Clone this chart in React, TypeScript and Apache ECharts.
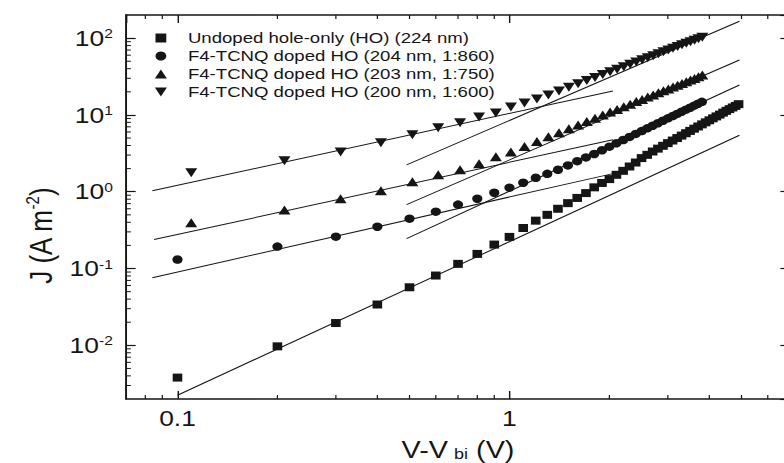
import { useEffect, useRef } from "react";
import * as echarts from "echarts";

// ---- layout constants (chart drawn at base width, then stretched horizontally like the source) ----
const BASE_W = 653;
const H = 463;
const SX = 784 / BASE_W;
const FONT = "'Liberation Sans', Arial, Helvetica, sans-serif";
const INK = "#151515";

// ---- axes ----
const X_MIN = 0.07;
const X_MAX = 7;
const Y_MIN = 0.002;
const Y_MAX = 200;
const xMinorTicks = [0.08, 0.09, 0.2, 0.3, 0.4, 0.5, 0.6, 0.7, 0.8, 0.9, 2, 3, 4, 5, 6];
const yMinorTicks = [
  0.003, 0.004, 0.005, 0.006, 0.007, 0.008, 0.009,
  0.02, 0.03, 0.04, 0.05, 0.06, 0.07, 0.08, 0.09,
  0.2, 0.3, 0.4, 0.5, 0.6, 0.7, 0.8, 0.9,
  2, 3, 4, 5, 6, 7, 8, 9,
  20, 30, 40, 50, 60, 70, 80, 90,
];

// ---- legend names ----
const seriesNames = [
  "Undoped hole-only (HO) (224 nm)",
  "F4-TCNQ doped HO (204 nm, 1:860)",
  "F4-TCNQ doped HO (203 nm, 1:750)",
  "F4-TCNQ doped HO (200 nm, 1:600)",
];

// ---- data: undoped (squares) ----
const undopedV = [
  0.1, 0.2, 0.3, 0.4, 0.5, 0.6, 0.7, 0.8, 0.9, 1.0,
  1.1, 1.2, 1.3, 1.4, 1.5, 1.6, 1.7, 1.8, 1.9, 2.0,
  2.1, 2.2, 2.3, 2.4, 2.5, 2.6, 2.7, 2.8, 2.9, 3.0,
  3.1, 3.2, 3.3, 3.4, 3.5, 3.6, 3.7, 3.8, 3.9, 4.0,
  4.1, 4.2, 4.3, 4.4, 4.5, 4.6, 4.7, 4.8, 4.9,
];
const undopedJ = [
  0.0038, 0.0097, 0.0195, 0.034, 0.057, 0.081, 0.115, 0.155, 0.205, 0.258,
  0.337, 0.42, 0.5, 0.6, 0.71, 0.83, 0.96, 1.14, 1.3, 1.46,
  1.66, 1.87, 2.13, 2.4, 2.74, 3.02, 3.34, 3.64, 3.96, 4.29,
  4.64, 5.0, 5.38, 5.78, 6.19, 6.62, 7.07, 7.53, 8.01, 8.51,
  9.03, 9.56, 10.1, 10.7, 11.3, 11.9, 12.5, 13.1, 13.8,
];

// ---- data: 1:860 (circles) ----
const d860V = [
  0.1, 0.2, 0.3, 0.4, 0.5, 0.6, 0.7, 0.8, 0.9, 1.0,
  1.1, 1.2, 1.3, 1.4, 1.5, 1.6, 1.7, 1.8, 1.9, 2.0,
  2.1, 2.2, 2.3, 2.4, 2.5, 2.6, 2.7, 2.8, 2.9, 3.0,
  3.1, 3.2, 3.3, 3.4, 3.5, 3.6, 3.7, 3.8,
];
const d860J = [
  0.131, 0.193, 0.26, 0.35, 0.446, 0.55, 0.68, 0.81, 0.97, 1.13,
  1.31, 1.52, 1.71, 1.93, 2.2, 2.5, 2.8, 3.1, 3.47, 3.86,
  4.28, 4.71, 5.17, 5.66, 6.16, 6.69, 7.23, 7.8, 8.4, 9.02,
  9.66, 10.3, 11.0, 11.7, 12.4, 13.2, 14.0, 14.8,
];

// ---- data: 1:750 (up triangles) ----
const d750V = [
  0.11, 0.21, 0.31, 0.41, 0.51, 0.61, 0.71, 0.81, 0.91, 1.01,
  1.11, 1.21, 1.31, 1.41, 1.51, 1.61, 1.71, 1.81, 1.91, 2.01,
  2.11, 2.21, 2.31, 2.41, 2.51, 2.61, 2.71, 2.81, 2.91, 3.01,
  3.11, 3.21, 3.31, 3.41, 3.51, 3.61, 3.71, 3.81,
];
const d750J = [
  0.395, 0.58, 0.81, 1.03, 1.35, 1.66, 1.93, 2.31, 2.85, 3.3,
  3.88, 4.51, 5.18, 5.88, 6.62, 7.39, 8.2, 9.05, 9.94, 10.9,
  11.8, 12.8, 13.8, 14.9, 15.9, 17.1, 18.2, 19.4, 20.6, 21.8,
  23.1, 24.4, 25.7, 27.1, 28.5, 29.9, 31.3, 33.0,
];

// ---- data: 1:600 (down triangles) ----
const d600V = [
  0.11, 0.21, 0.31, 0.41, 0.51, 0.61, 0.71, 0.81, 0.91, 1.01,
  1.11, 1.21, 1.31, 1.41, 1.51, 1.61, 1.71, 1.81, 1.91, 2.01,
  2.11, 2.21, 2.31, 2.41, 2.51, 2.61, 2.71, 2.81, 2.91, 3.01,
  3.11, 3.21, 3.31, 3.41, 3.51, 3.61, 3.71, 3.81,
];
const d600J = [
  1.77, 2.53, 3.3, 4.33, 5.5, 6.8, 7.9, 9.4, 10.6, 12.7,
  14.3, 16.1, 18.2, 20.5, 22.9, 25.4, 28.0, 30.7, 33.5, 36.4,
  39.4, 42.5, 45.6, 48.9, 52.2, 55.6, 59.1, 62.7, 66.3, 70.0,
  73.9, 77.7, 81.7, 85.7, 89.9, 94.0, 98.3, 103,
];

// ---- fitted lines (end points) ----
const fitUndopedV = [0.1, 4.93];
const fitUndopedJ = [0.00224, 5.44];
const fit860LowV = [0.084, 2.05];
const fit860LowJ = [0.076, 1.72];
const fit750LowV = [0.085, 2.05];
const fit750LowJ = [0.238, 4.75];
const fit600LowV = [0.084, 2.05];
const fit600LowJ = [1.03, 20.5];
const fit860HighV = [0.49, 4.93];
const fit860HighJ = [0.245, 24.5];
const fit750HighV = [0.49, 4.93];
const fit750HighJ = [0.68, 51.8];
const fit600HighV = [0.49, 4.93];
const fit600HighJ = [2.24, 166];

const pairs = (xs: number[], ys: number[]) => xs.map((x, i) => [x, ys[i]]);

const SQUARE = "path://M0,0L10,0L10,10L0,10Z";
const UP_TRI = "path://M5,0L10,9L0,9Z";
const DOWN_TRI = "path://M0,0L10,0L5,9Z";

export default function App() {
  const ref = useRef<HTMLDivElement>(null);

  useEffect(() => {
    if (!ref.current) return;
    const chart = echarts.init(ref.current, null, { renderer: "svg" });

    const axisCommon = {
      type: "log",
      logBase: 10,
      axisLine: { show: true, onZero: false, lineStyle: { color: INK, width: 1.6 } },
      axisTick: { show: true, inside: true, length: 8, lineStyle: { color: INK, width: 1.2 } },
      splitLine: { show: false },
      minorTick: { show: false },
    };

    const fitLines = [
      [fitUndopedV, fitUndopedJ],
      [fit860LowV, fit860LowJ],
      [fit750LowV, fit750LowJ],
      [fit600LowV, fit600LowJ],
      [fit860HighV, fit860HighJ],
      [fit750HighV, fit750HighJ],
      [fit600HighV, fit600HighJ],
    ].map(([xs, ys]) => ({
      type: "line",
      data: pairs(xs, ys),
      symbol: "none",
      silent: true,
      lineStyle: { color: INK, width: 1 },
      z: 2,
    }));

    const scatter = (name: string, xs: number[], ys: number[], symbol: string, size: any) => ({
      type: "scatter",
      name,
      data: pairs(xs, ys),
      symbol,
      symbolSize: size,
      itemStyle: { color: INK, opacity: 1 },
      z: 3,
    });

    const tickStyle = { stroke: INK, lineWidth: 1 };

    const option: any = {
      animation: false,
      backgroundColor: "#ffffff",
      grid: { left: 105, right: -5, top: 15, bottom: 64, containLabel: false, outerBoundsMode: "none" },
      legend: {
        orient: "vertical",
        left: 124,
        top: 25,
        itemWidth: 35,
        itemHeight: 9,
        itemGap: 2,
        selectedMode: false,
        data: seriesNames,
        textStyle: { fontFamily: FONT, fontSize: 15.5, lineHeight: 16, color: INK },
      },
      xAxis: [
        {
          ...axisCommon,
          min: X_MIN,
          max: X_MAX,
          position: "bottom",
          axisLabel: {
            show: true,
            interval: 0,
            showMinLabel: false,
            showMaxLabel: false,
            margin: 8,
            fontFamily: FONT,
            fontSize: 22,
            color: INK,
            formatter: (v: number) => {
              const e = Math.round(Math.log10(v));
              return e < 0 ? Math.pow(10, e).toFixed(-e) : String(Math.pow(10, e));
            },
          },
          name: "{a|V-V}{b|bi}{a| (V)}",
          nameLocation: "middle",
          nameGap: 38.5,
          nameTextStyle: {
            fontFamily: FONT,
            color: INK,
            rich: {
              a: { fontFamily: FONT, fontSize: 24, lineHeight: 24, color: INK },
              b: { fontFamily: FONT, fontSize: 15, lineHeight: 11, color: INK, verticalAlign: "bottom", padding: [0, 0, 0, 5] },
            },
          },
        },
        {
          ...axisCommon,
          min: X_MIN,
          max: X_MAX,
          position: "top",
          axisLabel: { show: false },
        },
      ],
      yAxis: [
        {
          ...axisCommon,
          min: Y_MIN,
          max: Y_MAX,
          position: "left",
          axisLabel: {
            show: true,
            interval: 0,
            showMinLabel: false,
            showMaxLabel: false,
            margin: 11,
            fontFamily: FONT,
            color: INK,
            formatter: (v: number) => {
              const e = Math.round(Math.log10(v));
              return `{b|10}{s|${e}}`;
            },
            rich: {
              b: { fontFamily: FONT, fontSize: 22, color: INK },
              s: { fontFamily: FONT, fontSize: 13, color: INK, verticalAlign: "top" },
            },
          },
          name: "{a|J (A m}{s|-2}{a|)}",
          nameLocation: "middle",
          nameRotate: 90,
          nameGap: 57,
          nameTextStyle: {
            fontFamily: FONT,
            color: INK,
            padding: [0, 58, 0, 0],
            rich: {
              a: { fontFamily: FONT, fontSize: 26, lineHeight: 28, color: INK },
              s: { fontFamily: FONT, fontSize: 15, color: INK, verticalAlign: "top" },
            },
          },
        },
        {
          ...axisCommon,
          min: Y_MIN,
          max: Y_MAX,
          position: "right",
          axisLabel: { show: false },
        },
      ],
      series: [
        ...fitLines,
        scatter(seriesNames[0], undopedV, undopedJ, SQUARE, 8),
        scatter(seriesNames[1], d860V, d860J, "circle", 8.5),
        scatter(seriesNames[2], d750V, d750J, UP_TRI, [10, 9]),
        scatter(seriesNames[3], d600V, d600J, DOWN_TRI, [10, 9]),
        {
          type: "custom",
          silent: true,
          clip: false,
          z: 4,
          data: xMinorTicks.map((v) => [v, Y_MIN]),
          renderItem: (_p: any, api: any) => {
            const b = api.coord([api.value(0), Y_MIN]);
            const t = api.coord([api.value(0), Y_MAX]);
            return {
              type: "group",
              children: [
                { type: "line", shape: { x1: b[0], y1: b[1], x2: b[0], y2: b[1] - 4 }, style: tickStyle },
                { type: "line", shape: { x1: t[0], y1: t[1], x2: t[0], y2: t[1] + 4 }, style: tickStyle },
              ],
            };
          },
        },
        {
          type: "custom",
          silent: true,
          clip: false,
          z: 4,
          data: yMinorTicks.map((v) => [X_MIN, v]),
          renderItem: (_p: any, api: any) => {
            const l = api.coord([X_MIN, api.value(1)]);
            const r = api.coord([X_MAX, api.value(1)]);
            return {
              type: "group",
              children: [
                { type: "line", shape: { x1: l[0], y1: l[1], x2: l[0] + 4, y2: l[1] }, style: tickStyle },
                { type: "line", shape: { x1: r[0], y1: r[1], x2: r[0] - 4, y2: r[1] }, style: tickStyle },
              ],
            };
          },
        },
      ],
    };

    chart.setOption(option);
    return () => chart.dispose();
  }, []);

  return (
    <div
      ref={ref}
      style={{
        position: "absolute",
        left: 0,
        top: 0,
        width: BASE_W,
        height: H,
        transform: `scaleX(${SX})`,
        transformOrigin: "0 0",
        background: "#fff",
      }}
    />
  );
}
